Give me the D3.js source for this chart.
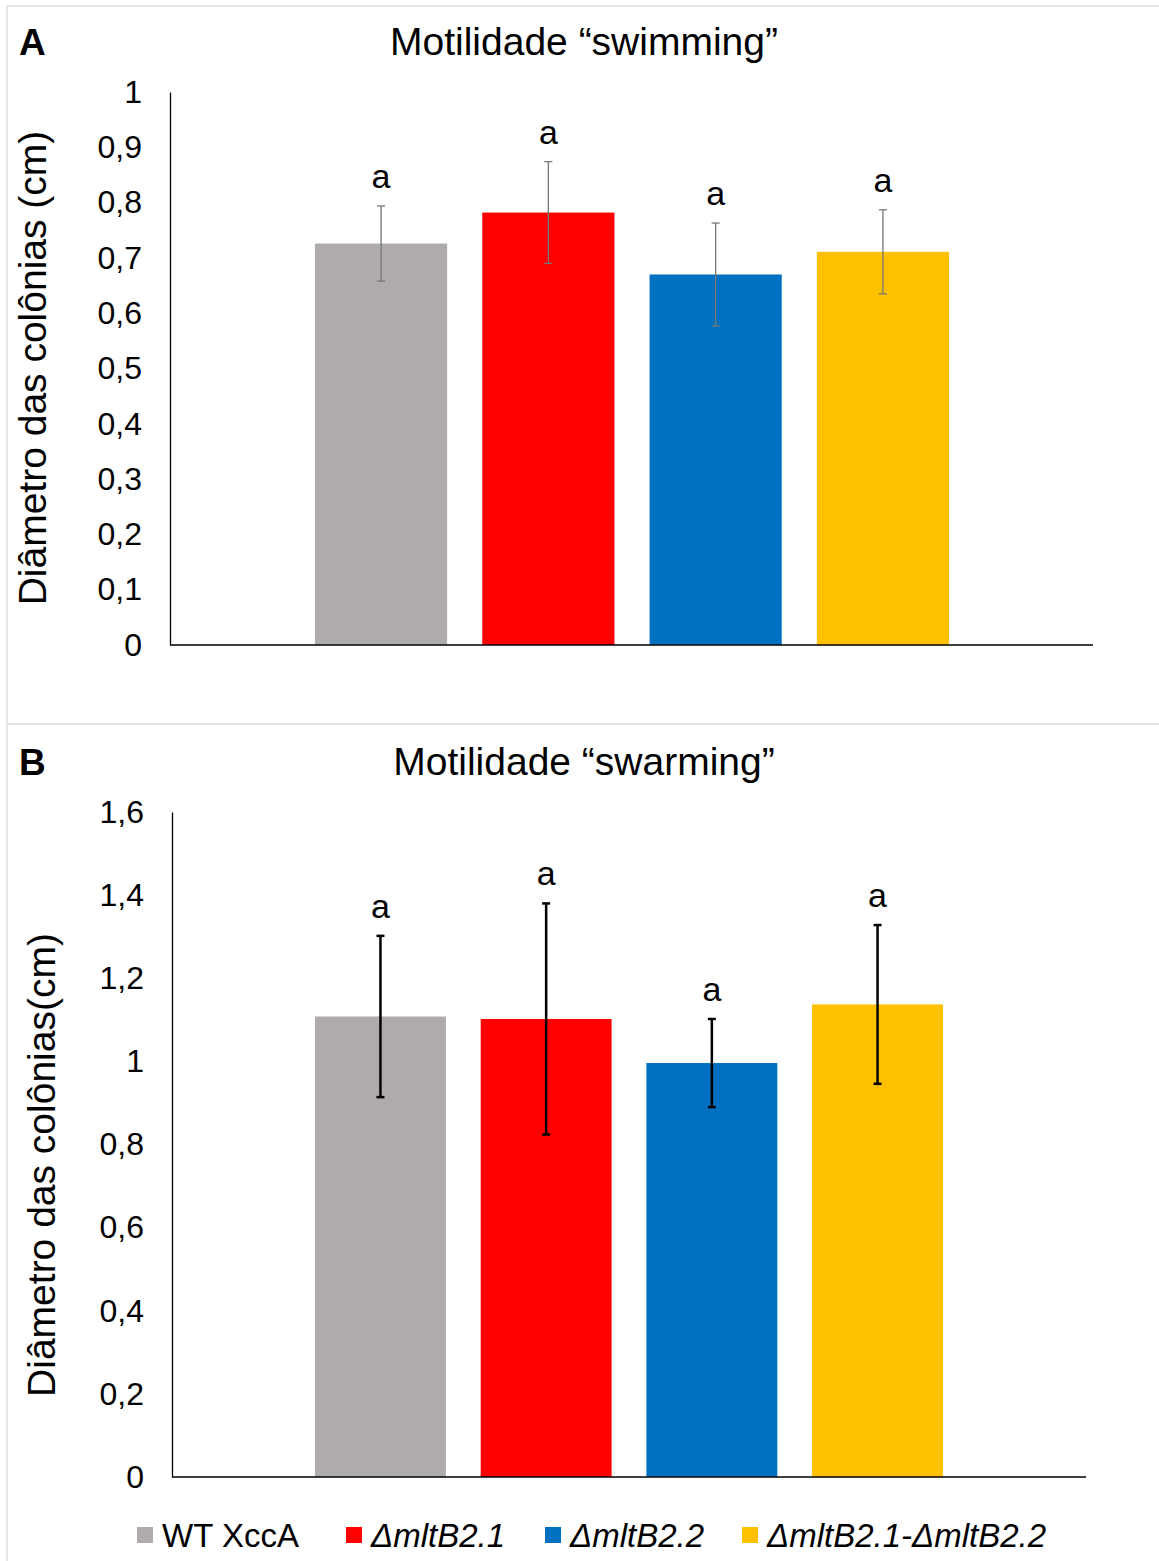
<!DOCTYPE html>
<html>
<head>
<meta charset="utf-8">
<script src="https://cdn.jsdelivr.net/npm/d3@7"></script>
<style>
  body { margin: 0; background: #fff; }
  svg text { font-family: "Liberation Sans", Arial, sans-serif; fill: #000; }
</style>
</head>
<body>
<svg id="chart" width="1159" height="1561"></svg>
<script>
// strains (series), one per bar
var strains = ["WT XccA", "\u0394mltB2.1", "\u0394mltB2.2", "\u0394mltB2.1-\u0394mltB2.2"];
var strainColors = ["#afabab", "#ff0000", "#0070c0", "#ffc000"];
var strainItalic = [false, true, true, true];

// panel A - swimming
var swimMeans = [0.726, 0.782, 0.670, 0.711];
var swimErr = [0.068, 0.092, 0.093, 0.076];
var swimLetters = ["a", "a", "a", "a"];
var swimTicks = [0, 0.1, 0.2, 0.3, 0.4, 0.5, 0.6, 0.7, 0.8, 0.9, 1];

// panel B - swarming
var swarmMeans = [1.108, 1.102, 0.996, 1.137];
var swarmErr = [0.194, 0.278, 0.106, 0.191];
var swarmLetters = ["a", "a", "a", "a"];
var swarmTicks = [0, 0.2, 0.4, 0.6, 0.8, 1, 1.2, 1.4, 1.6];

var svg = d3.select("#chart");
var fmt = function (d) { return String(d).replace(".", ","); };

// light frame around the two panels
var frame = svg.append("g").attr("stroke", "#e4e4e4").attr("stroke-width", 2);
frame.append("line").attr("x1", 7).attr("x2", 1159).attr("y1", 6).attr("y2", 6);
frame.append("line").attr("x1", 7).attr("x2", 7).attr("y1", 5).attr("y2", 1561);
frame.append("line").attr("x1", 7).attr("x2", 1159).attr("y1", 724).attr("y2", 724);

function drawPanel(cfg) {
    var g = svg.append("g");

    var y = d3.scaleLinear().domain([0, cfg.max]).range([cfg.bottom, cfg.top]);
    var x = d3.scaleBand().domain(strains)
        .range([cfg.barsLeft, cfg.barsRight])
        .paddingInner(0.21).paddingOuter(0);

    // panel letter + title
    g.append("text").attr("x", 19).attr("y", cfg.titleY)
        .attr("font-size", 37).attr("font-weight", "bold").text(cfg.letter);
    g.append("text").attr("x", 584).attr("y", cfg.titleY)
        .attr("text-anchor", "middle").attr("font-size", 39).text(cfg.title);

    // y axis title
    g.append("text")
        .attr("transform", "translate(" + cfg.yTitleX + "," + cfg.yTitleY + ") rotate(-90)")
        .attr("text-anchor", "middle").attr("font-size", 39).text(cfg.yTitle);

    // bars
    g.selectAll("rect.bar").data(cfg.means).enter().append("rect")
        .attr("class", "bar")
        .attr("x", function (d, i) { return x(strains[i]); })
        .attr("y", function (d) { return y(d); })
        .attr("width", x.bandwidth())
        .attr("height", function (d) { return cfg.bottom - y(d); })
        .attr("fill", function (d, i) { return strainColors[i]; });

    // error bars
    var eb = g.selectAll("g.err").data(cfg.means).enter().append("g")
        .attr("class", "err")
        .attr("stroke", cfg.errColor).attr("stroke-width", cfg.errWidth);
    var cx = function (i) { return x(strains[i]) + x.bandwidth() / 2; };
    eb.append("line")
        .attr("x1", function (d, i) { return cx(i); })
        .attr("x2", function (d, i) { return cx(i); })
        .attr("y1", function (d, i) { return y(d + cfg.err[i]); })
        .attr("y2", function (d, i) { return y(d - cfg.err[i]); });
    [1, -1].forEach(function (s) {
        eb.append("line")
            .attr("x1", function (d, i) { return cx(i) - 4; })
            .attr("x2", function (d, i) { return cx(i) + 4; })
            .attr("y1", function (d, i) { return y(d + s * cfg.err[i]); })
            .attr("y2", function (d, i) { return y(d + s * cfg.err[i]); });
    });

    // significance letters
    g.selectAll("text.sig").data(cfg.letters).enter().append("text")
        .attr("class", "sig")
        .attr("x", function (d, i) { return cx(i); })
        .attr("y", function (d, i) { return y(cfg.means[i] + cfg.err[i]) - 18; })
        .attr("text-anchor", "middle").attr("font-size", 34)
        .text(function (d) { return d; });

    // y axis
    var yAxis = g.append("g")
        .attr("transform", "translate(" + cfg.left + ",0)")
        .call(d3.axisLeft(y).tickValues(cfg.ticks).tickFormat(fmt).tickSize(0).tickPadding(28));
    yAxis.select(".domain").attr("stroke", "#000").attr("stroke-width", 1.3);
    yAxis.selectAll("text").attr("font-size", 32).attr("font-family", "Liberation Sans, Arial, sans-serif").attr("fill", "#000");

    // x axis line
    g.append("line")
        .attr("x1", cfg.left).attr("x2", cfg.right)
        .attr("y1", cfg.bottom).attr("y2", cfg.bottom)
        .attr("stroke", "#000").attr("stroke-width", 1.5);
}

drawPanel({
    letter: "A", title: "Motilidade \u201cswimming\u201d", titleY: 55,
    yTitle: "Di\u00e2metro das col\u00f4nias (cm)", yTitleX: 46, yTitleY: 368,
    means: swimMeans, err: swimErr, letters: swimLetters, ticks: swimTicks, max: 1,
    left: 170, right: 1093, top: 92, bottom: 645, barsLeft: 315, barsRight: 949,
    errColor: "#777", errWidth: 1.3
});

drawPanel({
    letter: "B", title: "Motilidade \u201cswarming\u201d", titleY: 775,
    yTitle: "Di\u00e2metro das col\u00f4nias(cm)", yTitleX: 55, yTitleY: 1165,
    means: swarmMeans, err: swarmErr, letters: swarmLetters, ticks: swarmTicks, max: 1.6,
    left: 172, right: 1086, top: 812, bottom: 1477, barsLeft: 315, barsRight: 943,
    errColor: "#000", errWidth: 2.5
});

// legend
var legendX = [137, 346, 545, 742];
var legend = svg.append("g").selectAll("g").data(strains).enter().append("g")
    .attr("transform", function (d, i) { return "translate(" + legendX[i] + ",1527)"; });
legend.append("rect").attr("width", 16).attr("height", 16)
    .attr("fill", function (d, i) { return strainColors[i]; });
legend.append("text").attr("x", 25).attr("y", 20)
    .attr("font-size", 33)
    .attr("font-style", function (d, i) { return strainItalic[i] ? "italic" : "normal"; })
    .text(function (d) { return d; });
</script>
</body>
</html>
